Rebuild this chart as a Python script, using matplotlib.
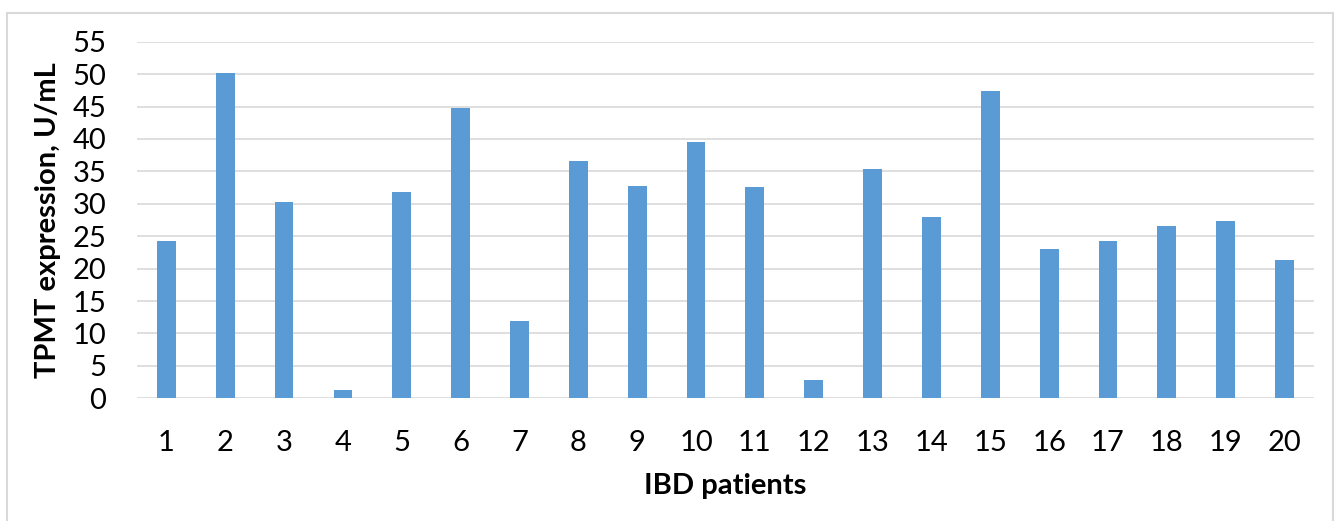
import matplotlib
matplotlib.use("Agg")
import matplotlib.pyplot as plt
from matplotlib.patches import Rectangle

plt.rcParams['font.family'] = ['Lato', 'DejaVu Sans']

patients = [str(i) for i in range(1, 21)]
tpmt = [24.2, 50.1, 30.2, 1.3, 31.8, 44.8, 11.9, 36.6, 32.8, 39.5,
        32.6, 2.8, 35.3, 27.9, 47.4, 23.1, 24.3, 26.6, 27.4, 21.3]
yticks = list(range(0, 56, 5))

fig = plt.figure(figsize=(13.36, 5.21), dpi=100)
ax = fig.add_axes([0.1025, 0.2355, 0.881, 0.6845])

# light frame around the whole chart
fig.patches.append(Rectangle((7 / 1336, -0.05), 1326 / 1336, 1.05 - 13 / 521,
                             transform=fig.transFigure, fill=False,
                             edgecolor='#d9d9d9', linewidth=1.5))

x = range(len(patients))
ax.bar(x, tpmt, width=0.32, color='#5b9bd5', zorder=3)

ax.set_xlim(-0.5, len(patients) - 0.5)
ax.set_ylim(0, 55)
ax.set_yticks(yticks)
ax.set_xticks(list(x))
ax.set_xticklabels(patients)
ax.yaxis.grid(True, color='#d9d9d9', linewidth=1.2, zorder=0)
ax.set_axisbelow(True)
for s in ax.spines.values():
    s.set_visible(False)
ax.tick_params(axis='both', length=0, labelsize=21, colors='black')
ax.tick_params(axis='x', pad=23)
ax.tick_params(axis='y', pad=22)

ax.set_ylabel('TPMT expression, U/mL', fontsize=21, fontweight='bold')
ax.yaxis.set_label_coords(-0.0646, 0.5)
ax.set_xlabel('IBD patients', fontsize=21, fontweight='bold')
ax.xaxis.set_label_coords(0.5, -0.21)

fig.savefig('out.png', dpi=100)
